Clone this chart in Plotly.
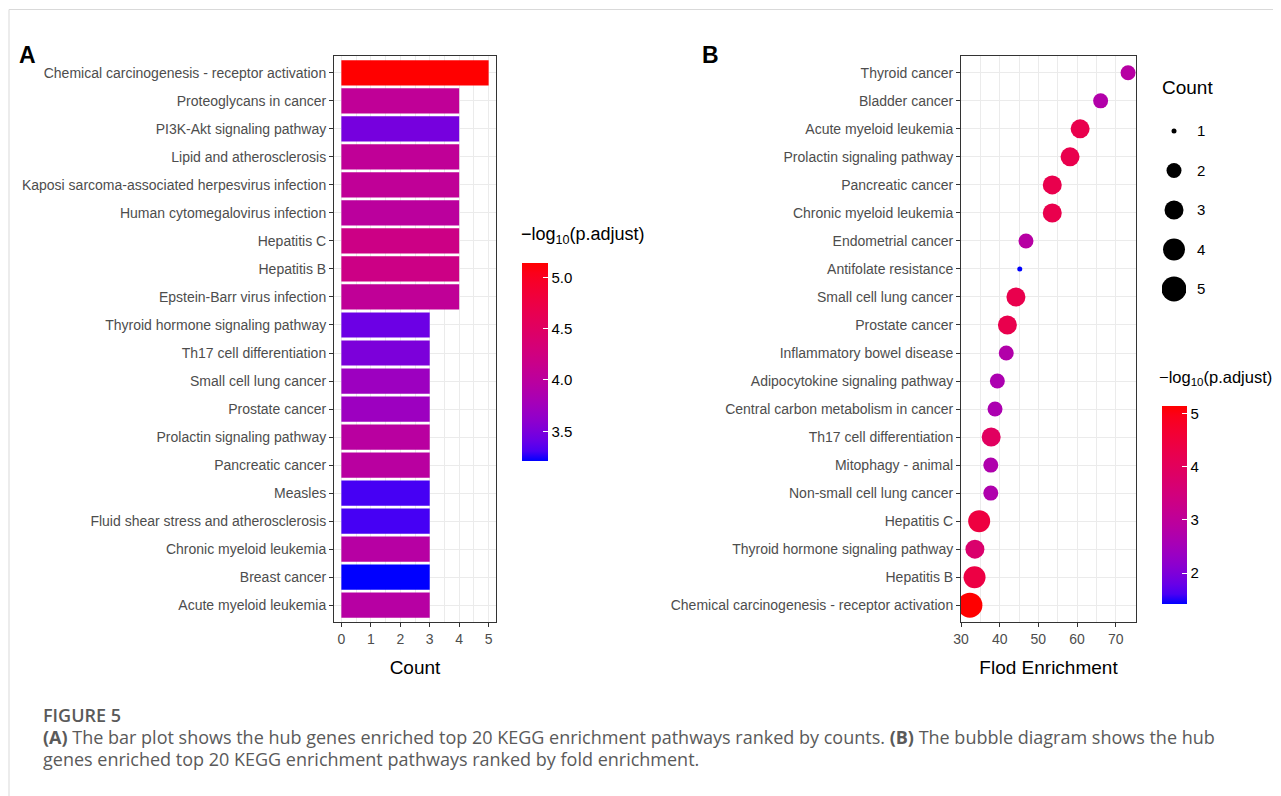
import plotly.graph_objects as go

# ---------------- data ----------------
a_terms = [
    "Chemical carcinogenesis - receptor activation", "Proteoglycans in cancer",
    "PI3K-Akt signaling pathway", "Lipid and atherosclerosis",
    "Kaposi sarcoma-associated herpesvirus infection", "Human cytomegalovirus infection",
    "Hepatitis C", "Hepatitis B", "Epstein-Barr virus infection",
    "Thyroid hormone signaling pathway", "Th17 cell differentiation",
    "Small cell lung cancer", "Prostate cancer", "Prolactin signaling pathway",
    "Pancreatic cancer", "Measles", "Fluid shear stress and atherosclerosis",
    "Chronic myeloid leukemia", "Breast cancer", "Acute myeloid leukemia",
]
a_count = [5, 4, 4, 4, 4, 4, 4, 4, 4, 3, 3, 3, 3, 3, 3, 3, 3, 3, 3, 3]
a_logp = [5.14, 4.05, 3.47, 4.05, 4.05, 4.00, 4.20, 4.20, 4.05, 3.42,
          3.50, 3.72, 3.72, 3.97, 3.97, 3.30, 3.30, 3.95, 3.21, 3.95]

b_terms = [
    "Thyroid cancer", "Bladder cancer", "Acute myeloid leukemia",
    "Prolactin signaling pathway", "Pancreatic cancer", "Chronic myeloid leukemia",
    "Endometrial cancer", "Antifolate resistance", "Small cell lung cancer",
    "Prostate cancer", "Inflammatory bowel disease", "Adipocytokine signaling pathway",
    "Central carbon metabolism in cancer", "Th17 cell differentiation",
    "Mitophagy - animal", "Non-small cell lung cancer", "Hepatitis C",
    "Thyroid hormone signaling pathway", "Hepatitis B",
    "Chemical carcinogenesis - receptor activation",
]
b_fold = [73.2, 66.1, 60.8, 58.2, 53.6, 53.6, 46.8, 45.2, 44.2, 42.0,
          41.7, 39.4, 38.8, 37.8, 37.7, 37.7, 34.7, 33.6, 33.5, 32.3]
b_count = [2, 2, 3, 3, 3, 3, 2, 1, 3, 3, 2, 2, 2, 3, 2, 2, 4, 3, 4, 5]
b_logp = [2.85, 2.75, 4.25, 4.25, 4.25, 4.25, 2.85, 1.42, 4.25, 4.25,
          2.75, 2.65, 2.65, 3.95, 2.70, 2.70, 4.45, 3.75, 4.40, 5.14]

count_levels = [1, 2, 3, 4, 5]
a_ticks = [0, 1, 2, 3, 4, 5]
b_ticks = [30, 40, 50, 60, 70]
a_cbar_ticks = [3.5, 4.0, 4.5, 5.0]
b_cbar_ticks = [2, 3, 4, 5]

# ---------------- style helpers ----------------
FONT = "Liberation Sans, Arial, Helvetica, sans-serif"
CAP_FONT = "Open Sans, Noto Sans, sans-serif"
SIZE_OF = {1: 5, 2: 15, 3: 19, 4: 22, 5: 25}


def _srgb_to_lab(rgb):
    def lin(c):
        c = c / 255.0
        return c / 12.92 if c <= 0.04045 else ((c + 0.055) / 1.055) ** 2.4
    r, g, b = (lin(c) for c in rgb)
    X = (0.4124 * r + 0.3576 * g + 0.1805 * b) / 0.95047
    Y = (0.2126 * r + 0.7152 * g + 0.0722 * b)
    Z = (0.0193 * r + 0.1192 * g + 0.9505 * b) / 1.08883
    f = lambda t: t ** (1 / 3) if t > 0.008856 else 7.787 * t + 16 / 116
    fx, fy, fz = f(X), f(Y), f(Z)
    return (116 * fy - 16, 500 * (fx - fy), 200 * (fy - fz))


def _lab_to_srgb(lab):
    L, a, bb = lab
    fy = (L + 16) / 116
    fx = fy + a / 500
    fz = fy - bb / 200
    inv = lambda t: t ** 3 if t ** 3 > 0.008856 else (t - 16 / 116) / 7.787
    X, Y, Z = 0.95047 * inv(fx), inv(fy), 1.08883 * inv(fz)
    r = 3.2406 * X - 1.5372 * Y - 0.4986 * Z
    g = -0.9689 * X + 1.8758 * Y + 0.0415 * Z
    b = 0.0557 * X - 0.2040 * Y + 1.0570 * Z

    def gam(c):
        c = max(0.0, min(1.0, c))
        return 12.92 * c if c <= 0.0031308 else 1.055 * c ** (1 / 2.4) - 0.055
    return "rgb(%d,%d,%d)" % tuple(round(gam(c) * 255) for c in (r, g, b))


def lab_gradient(low, high, n=21):
    l1, l2 = _srgb_to_lab(low), _srgb_to_lab(high)
    out = []
    for i in range(n):
        t = i / (n - 1)
        out.append([t, _lab_to_srgb(tuple(p + (q - p) * t for p, q in zip(l1, l2)))])
    return out


CSCALE = lab_gradient((0, 0, 255), (255, 0, 0))
OFF = 8                      # page body margin in front of the figure
W, H = 1281 - OFF, 796 - OFF
px = lambda v: (v - OFF) / W          # reference page pixel -> paper x
py = lambda v: 1 - (v - OFF) / H      # reference page pixel -> paper y

GRID = "#EBEBEB"
TICKFONT = dict(family=FONT, size=14, color="#4D4D4D")
TITLE = "\u2212log<sub>10</sub>(p.adjust)"

fig = go.Figure()

fig.add_trace(go.Bar(
    x=a_count, y=a_terms, orientation="h", width=0.9,
    marker=dict(color=a_logp, colorscale=CSCALE, cmin=3.21, cmax=5.14, line=dict(width=0),
                colorbar=dict(
                    x=px(522), xanchor="left", y=py(362), yanchor="middle",
                    len=198, lenmode="pixels", thickness=26, thicknessmode="pixels",
                    outlinewidth=0, xpad=0, ypad=0,
                    tickvals=a_cbar_ticks, tickformat=".1f", ticks="inside",
                    tickcolor="white", ticklen=5, tickwidth=1,
                    tickfont=dict(family=FONT, size=15, color="black"))),
    xaxis="x", yaxis="y", showlegend=False, hoverinfo="x+y",
))

fig.add_trace(go.Scatter(
    x=b_fold, y=b_terms, mode="markers",
    marker=dict(size=[SIZE_OF[c] for c in b_count], color=b_logp, colorscale=CSCALE,
                cmin=1.42, cmax=5.14, opacity=1, line=dict(width=0),
                colorbar=dict(
                    x=px(1162), xanchor="left", y=py(505), yanchor="middle",
                    len=198, lenmode="pixels", thickness=25, thicknessmode="pixels",
                    outlinewidth=0, xpad=0, ypad=0,
                    tickvals=b_cbar_ticks, ticks="inside",
                    tickcolor="white", ticklen=5, tickwidth=1,
                    tickfont=dict(family=FONT, size=15, color="black"))),
    xaxis="x2", yaxis="y2", showlegend=False,
))

# Count size legend (drawn as a small auxiliary axis)
fig.add_trace(go.Scatter(
    x=[0] * len(count_levels), y=count_levels, mode="markers",
    marker=dict(size=[SIZE_OF[c] for c in count_levels], color="#000000", opacity=1,
                line=dict(width=0)),
    xaxis="x3", yaxis="y3", showlegend=False, hoverinfo="skip",
))

common_axis = dict(showline=True, linecolor="#333333", linewidth=1, mirror=True,
                   ticks="outside", ticklen=4, tickcolor="#333333", tickwidth=1,
                   gridcolor=GRID, gridwidth=1.3, zeroline=False, tickfont=TICKFONT,
                   automargin=False)

fig.update_layout(
    width=W, height=H, margin=dict(l=0, r=0, t=0, b=0, autoexpand=False),
    paper_bgcolor="white", plot_bgcolor="white",
    font=dict(family=FONT),
    xaxis=dict(domain=[px(334), px(496)], range=[-0.25, 5.25], tickvals=a_ticks,
               minor=dict(dtick=0.5, tick0=0, showgrid=True, gridcolor=GRID, gridwidth=0.9, ticks=""),
               title=dict(text="Count", font=dict(family=FONT, size=19, color="black"), standoff=14),
               anchor="y", **common_axis),
    yaxis=dict(domain=[py(622), py(56)], type="category", categoryorder="array",
               categoryarray=a_terms, range=[len(a_terms) - 0.4, -0.6],
               anchor="x", **common_axis),
    xaxis2=dict(domain=[px(961), px(1136)], range=[30, 75.25], tickvals=b_ticks,
                minor=dict(dtick=5, tick0=30, showgrid=True, gridcolor=GRID, gridwidth=0.9, ticks=""),
                title=dict(text="Flod Enrichment", font=dict(family=FONT, size=19, color="black"), standoff=14),
                anchor="y2", **common_axis),
    yaxis2=dict(domain=[py(622), py(56)], type="category", categoryorder="array",
                categoryarray=b_terms, range=[len(b_terms) - 0.4, -0.6],
                anchor="x2", **common_axis),
    xaxis3=dict(domain=[px(1162), px(1186)], range=[-1, 1], visible=False, anchor="y3"),
    yaxis3=dict(domain=[py(308.75), py(111.25)], range=[5.5, 0.5], anchor="x3", side="right",
                showline=False, showgrid=False, zeroline=False, ticks="",
                tickvals=count_levels, ticklabelstandoff=10, automargin=False,
                tickfont=dict(family=FONT, size=15, color="black")),
)

ann = [
    dict(text="<b>A</b>", x=px(17), y=py(55), font=dict(family=FONT, size=23, color="black")),
    dict(text="<b>B</b>", x=px(700), y=py(55), font=dict(family=FONT, size=23, color="black")),
    dict(text="Count", x=px(1160), y=py(87), font=dict(family=FONT, size=19, color="black")),
    dict(text=TITLE, x=px(519), y=py(236), font=dict(family=FONT, size=18, color="black")),
    dict(text=TITLE, x=px(1157), y=py(378), font=dict(family=FONT, size=16.5, color="black")),
    dict(text="FIGURE 5", x=px(41), y=py(715),
         font=dict(family=CAP_FONT, size=18, color="#5A5A5A", weight=600)),
    dict(text="<b>(A)</b> The bar plot shows the hub genes enriched top 20 KEGG enrichment pathways ranked by counts. "
              "<b>(B)</b> The bubble diagram shows the hub",
         x=px(41), y=py(737), font=dict(family=CAP_FONT, size=18, color="#5A5A5A")),
    dict(text="genes enriched top 20 KEGG enrichment pathways ranked by fold enrichment.",
         x=px(41), y=py(759), font=dict(family=CAP_FONT, size=18, color="#5A5A5A")),
]
for a in ann:
    fig.add_annotation(xref="paper", yref="paper", xanchor="left", yanchor="middle",
                       showarrow=False, align="left", **a)

# page frame lines
fig.add_shape(type="line", xref="paper", yref="paper", x0=px(9), x1=1, y0=py(9.5), y1=py(9.5),
              line=dict(color="#D9D9D9", width=1))
fig.add_shape(type="line", xref="paper", yref="paper", x0=px(9), x1=px(9), y0=0, y1=py(9.5),
              line=dict(color="#D9D9D9", width=1))

fig.write_html("out.html")
